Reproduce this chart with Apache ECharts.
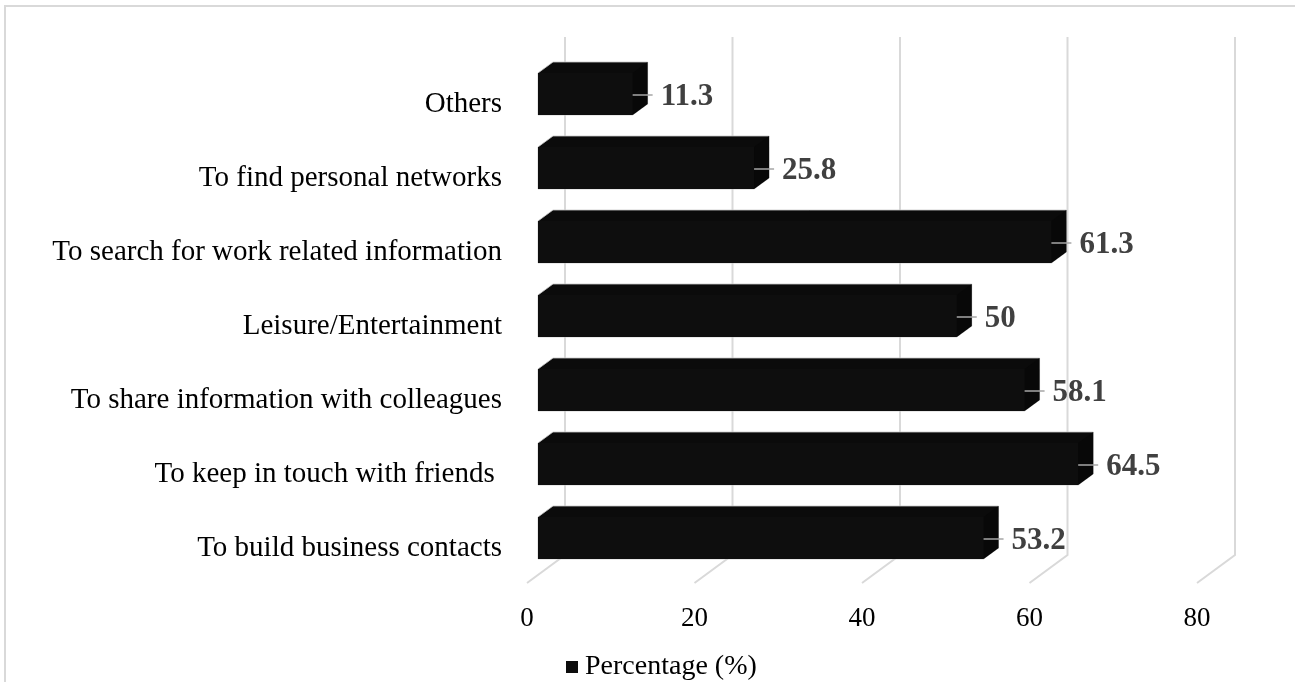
<!DOCTYPE html>
<html>
<head>
<meta charset="utf-8">
<script src="https://cdn.jsdelivr.net/npm/echarts@6/dist/echarts.min.js"></script>
<style>
html,body{margin:0;padding:0;background:#fff;}
#chart{width:1295px;height:682px;}
</style>
</head>
<body>
<div id="chart"></div>
<script>
const categories = [
  'To build business contacts',
  'To keep in touch with friends ',
  'To share information with colleagues',
  'Leisure/Entertainment',
  'To search for work related information',
  'To find personal networks',
  'Others'
];
const percentages = [53.2, 64.5, 58.1, 50, 61.3, 25.8, 11.3];
const tickValues = [0, 20, 40, 60, 80];
const seriesName = 'Percentage (%)';

const FONT = '"Liberation Serif", "Times New Roman", serif';
const chart = echarts.init(document.getElementById('chart'));

const barData = percentages.map((v, i) => [v, i]);
const gridData = tickValues.map(t => [t]);

// depth styling offsets (pixels)
const BAR_SHIFT = 11, DX = 15, DY = 11, FACE_UP = 31, FACE_DOWN = 11;
const WALL_SHIFT = 38, WALL_RISE = 30;

chart.setOption({
  animation: false,
  backgroundColor: '#fff',
  graphic: [{
    type: 'polyline',
    shape: { points: [[5, 682], [5, 6], [1295, 6]] },
    style: { stroke: '#d9d9d9', lineWidth: 2, fill: null },
    silent: true
  }],
  grid: { left: 527, top: 67, width: 670, height: 518, containLabel: false },
  legend: {
    data: [{ name: seriesName, icon: 'rect' }],
    left: 561, top: 648,
    itemWidth: 12, itemHeight: 12,
    textStyle: { fontFamily: FONT, fontSize: 28, color: '#000', padding: [0, 0, 0, 2] }
  },
  xAxis: {
    type: 'value', min: 0, max: 80, interval: 20,
    axisLine: { show: false }, axisTick: { show: false }, splitLine: { show: false },
    axisLabel: { fontFamily: FONT, fontSize: 27, color: '#000', margin: 20 }
  },
  yAxis: {
    type: 'category', data: categories,
    axisLine: { show: false }, axisTick: { show: false }, splitLine: { show: false },
    axisLabel: { fontFamily: FONT, fontSize: 29, color: '#000', margin: 25, padding: [4, 0, 0, 0] }
  },
  series: [
    {
      type: 'custom',
      name: 'grid',
      silent: true,
      data: gridData,
      encode: { x: 0 },
      renderItem: function (params, api) {
        const cs = params.coordSys;
        const x = api.coord([api.value(0), 0])[0];
        const yb = cs.y + cs.height - 2;
        return {
          type: 'polyline',
          shape: { points: [[x + WALL_SHIFT, cs.y - WALL_RISE], [x + WALL_SHIFT, yb - 28], [x, yb]] },
          style: { stroke: '#d9d9d9', lineWidth: 2, fill: null }
        };
      },
      z: 1
    },
    {
      type: 'custom',
      name: seriesName,
      data: barData,
      encode: { x: 0, y: 1 },
      itemStyle: { color: '#0d0d0d' },
      renderItem: function (params, api) {
        const v = api.value(0), i = api.value(1);
        const p0 = api.coord([0, i]);
        const p1 = api.coord([v, i]);
        const x0 = p0[0] + BAR_SHIFT, x1 = p1[0] + BAR_SHIFT, yc = p0[1];
        const ft = yc - FACE_UP, fb = yc + FACE_DOWN, fm = (ft + fb) / 2 + 1;
        return {
          type: 'group',
          children: [
            { type: 'polygon', shape: { points: [[x0, ft], [x0 + DX, ft - DY], [x1 + DX, ft - DY], [x1 + DX, fb - DY], [x1, fb], [x0, fb]] },
              style: { fill: '#0b0b0b', stroke: '#c8c8c8', lineWidth: 0.8 } },
            { type: 'polygon', shape: { points: [[x1, ft], [x1 + DX, ft - DY], [x1 + DX, fb - DY], [x1, fb]] },
              style: { fill: '#080808' } },
            { type: 'rect', shape: { x: x0, y: ft, width: x1 - x0, height: fb - ft },
              style: { fill: '#0e0e0e' } },
            { type: 'line', shape: { x1: x1, y1: fm, x2: x1 + 20, y2: fm },
              style: { stroke: '#a6a6a6', lineWidth: 1.5 } },
            { type: 'text', x: x1 + 28, y: fm + 2,
              style: { text: String(v), fontFamily: FONT, fontSize: 31, fontWeight: 'bold',
                       fill: '#404040', verticalAlign: 'middle', align: 'left' } }
          ]
        };
      },
      z: 2
    }
  ]
});
</script>
</body>
</html>
